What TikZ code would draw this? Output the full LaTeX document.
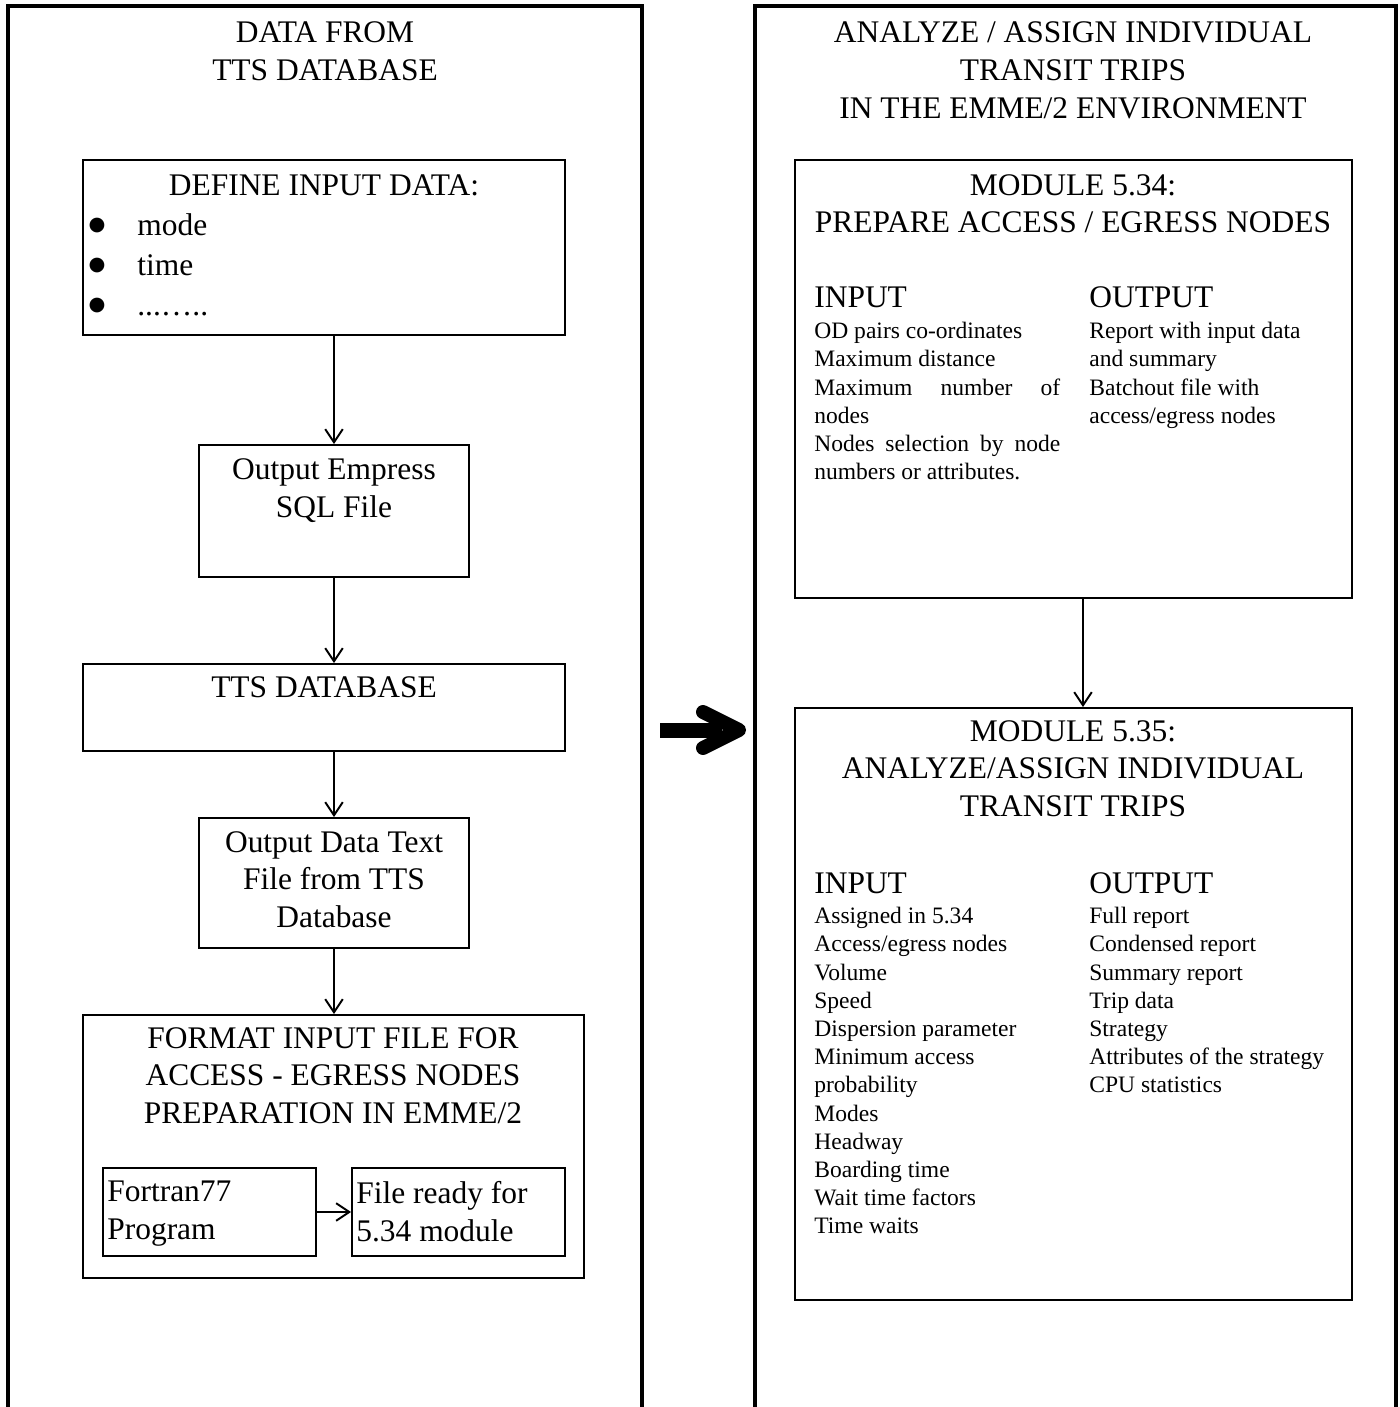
\documentclass[tikz,border=0pt]{standalone}
\usepackage{fontspec}
\setmainfont{Liberation Serif}
\newfontfamily\dotfont{DejaVu Sans}
\usetikzlibrary{arrows.meta,fit}
\setlength\parindent{0pt}
\newcommand\bigtxt{\fontsize{17.9}{21.5}\selectfont}
\newcommand\smalltxt{\fontsize{13.4}{16.05}\selectfont}
\newcommand\dottxt{\dotfont\fontsize{11}{11}\selectfont}

\begin{document}
\begin{tikzpicture}[x=0.02cm, y=-0.02cm,
    panel/.style={line width=2.6pt},
    box/.style={draw, line width=1.1pt, inner sep=0pt},
    head/.style={inner sep=0pt, font=\bigtxt, align=center, anchor=north},
    item/.style={inner sep=0pt, font=\bigtxt, anchor=base west},
    bul/.style={inner sep=0pt, font=\dottxt},
    lst/.style={inner sep=0pt, font=\smalltxt, align=left, anchor=north west},
    flow/.style={line width=1.1pt, -{Straight Barb[length=7.5pt,width=10pt]}}]
  \useasboundingbox (0,0) rectangle (1400,1407);

  % the two panels, open at the bottom
  \draw[panel] (8,1407) |- (642,6) -- (642,1407);
  \draw[panel] (755,1407) |- (1396,6) -- (1396,1407);

  \node[head] (ltitle) at (325,21.5) {DATA FROM\\TTS DATABASE};
  \node[head] (rtitle) at (1073,21.5) {ANALYZE / ASSIGN INDIVIDUAL\\TRANSIT TRIPS\\IN THE EMME/2 ENVIRONMENT};

  % left panel
  \node[box, fit={(83,160) (565,335)}] (def) {};
  \node[head] (deft) at (324,174.5) {DEFINE INPUT DATA:};
  \node[bul] (dot1) at (97,225) {●};
  \node[bul] (dot2) at (97,265) {●};
  \node[bul] (dot3) at (97,305) {●};
  \node[item] (it1) at (137,235) {mode};
  \node[item] (it2) at (137,275) {time};
  \node[item] (it3) at (137,315) {...…..};

  \node[box, fit={(199,445) (469,577)}] (sql) {};
  \node[head] (sqlt) at (334,458.5) {Output Empress\\SQL File};
  \node[box, fit={(83,664) (565,751)}] (tts) {};
  \node[head] (ttst) at (324,676.5) {TTS DATABASE};
  \node[box, fit={(199,818) (469,948)}] (txt) {};
  \node[head] (txtt) at (334,831) {Output Data Text\\File from TTS\\Database};
  \node[box, fit={(83,1015) (584,1278)}] (fmt) {};
  \node[head] (fmtt) at (333,1027) {FORMAT INPUT FILE FOR\\ACCESS - EGRESS NODES\\PREPARATION IN EMME/2};
  \node[box, fit={(103,1168) (316,1256)}] (f77) {};
  \node[head, anchor=north west, align=left] (f77t) at (107,1181) {Fortran77\\Program};
  \node[box, fit={(352,1168) (565,1256)}] (ready) {};
  \node[head, anchor=north west, align=left] (readyt) at (356,1181) {File ready for\\5.34 module};

  \draw[flow] (def.south -| sql.south) -- (sql.north);
  \draw[flow] (sql.south) -- (tts.north -| sql.south);
  \draw[flow] (tts.south -| txt.north) -- (txt.north);
  \draw[flow] (txt.south) -- (fmt.north -| txt.south);
  \draw[flow] (f77.east) -- (ready.west);

  % right panel
  \node[box, fit={(795,160) (1352,598)}] (m534) {};
  \node[head] (m534t) at (1073,174) {MODULE 5.34:\\PREPARE ACCESS / EGRESS NODES};
  \node[item] (in534) at (814,307.5) {INPUT};
  \node[item] (out534) at (1089,307.5) {OUTPUT};
  \node[lst, text width=4.92cm, align=justify] (inl534) at (814,322) {OD pairs co-ordinates\par
    Maximum distance\par
    Maximum number of\linebreak nodes\par
    Nodes selection by node\linebreak numbers or attributes.};
  \node[lst] (outl534) at (1089,322) {Report with input data\\and summary\\Batchout file with\\access/egress nodes};

  \node[box, fit={(795,708) (1352,1300)}] (m535) {};
  \node[head] (m535t) at (1073,720) {MODULE 5.35:\\ANALYZE/ASSIGN INDIVIDUAL\\TRANSIT TRIPS};
  \node[item] (in535) at (814,893) {INPUT};
  \node[item] (out535) at (1089,893) {OUTPUT};
  \node[lst] (inl535) at (814,907) {Assigned in 5.34\\Access/egress nodes\\Volume\\Speed\\Dispersion parameter\\Minimum access\\probability\\Modes\\Headway\\Boarding time\\Wait time factors\\Time waits};
  \node[lst] (outl535) at (1089,907) {Full report\\Condensed report\\Summary report\\Trip data\\Strategy\\Attributes of the strategy\\CPU statistics};

  \draw[flow] ([xshift=0.19cm]m534.south) -- ([xshift=0.19cm]m535.north);

  % big arrow between the panels
  \coordinate (gap) at (660,730);
  \coordinate (tip) at (739,730);
  \draw[line width=0.3cm] (gap) -- (722,730);
  \draw[line width=0.28cm, line cap=round, line join=round] (703,712) -- (tip) -- (703,748);
\end{tikzpicture}
\end{document}
